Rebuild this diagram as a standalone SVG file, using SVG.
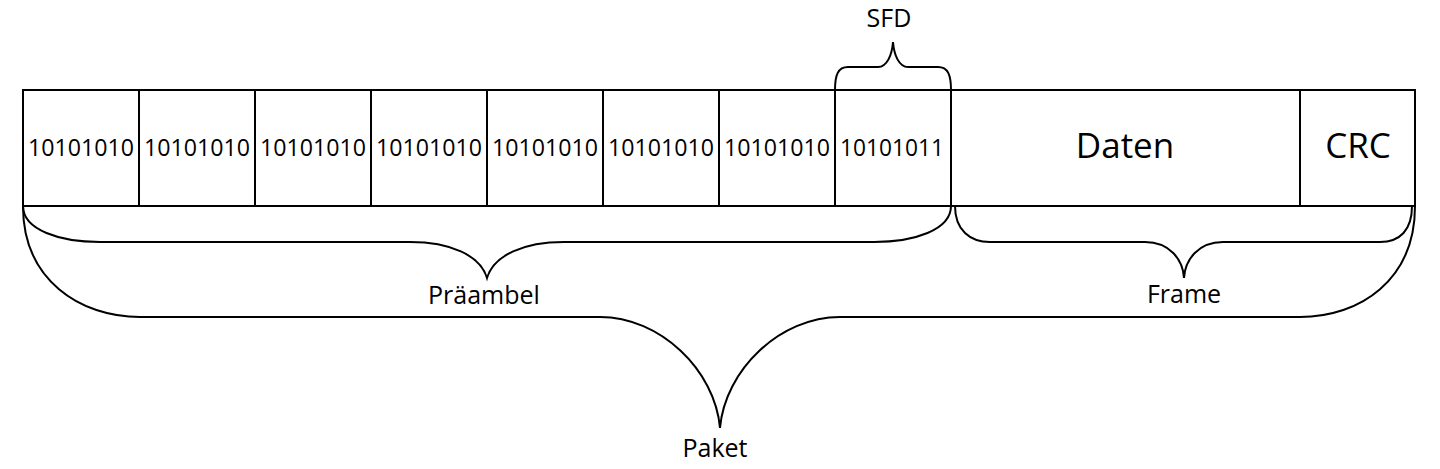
<svg xmlns="http://www.w3.org/2000/svg" width="1440" height="469" viewBox="0 0 1440 469">
<style>
.cell{fill:#fff;stroke:#000;stroke-width:2}
.br{fill:none;stroke:#000;stroke-width:2}
text{font-family:"Open Sans","Noto Sans",sans-serif;fill:#000;text-anchor:middle}
.bits{font-size:23px}
.big{font-size:35px}
.lbl{font-size:25px}
</style>
<rect width="1440" height="469" fill="#fff"/>
<g id="cell1"><rect class="cell" x="23" y="90" width="116" height="116"/><text class="bits" x="81" y="156" textLength="106" lengthAdjust="spacingAndGlyphs">10101010</text></g>
<g id="cell2"><rect class="cell" x="139" y="90" width="116" height="116"/><text class="bits" x="197" y="156" textLength="106" lengthAdjust="spacingAndGlyphs">10101010</text></g>
<g id="cell3"><rect class="cell" x="255" y="90" width="116" height="116"/><text class="bits" x="313" y="156" textLength="106" lengthAdjust="spacingAndGlyphs">10101010</text></g>
<g id="cell4"><rect class="cell" x="371" y="90" width="116" height="116"/><text class="bits" x="429" y="156" textLength="106" lengthAdjust="spacingAndGlyphs">10101010</text></g>
<g id="cell5"><rect class="cell" x="487" y="90" width="116" height="116"/><text class="bits" x="545" y="156" textLength="106" lengthAdjust="spacingAndGlyphs">10101010</text></g>
<g id="cell6"><rect class="cell" x="603" y="90" width="116" height="116"/><text class="bits" x="661" y="156" textLength="106" lengthAdjust="spacingAndGlyphs">10101010</text></g>
<g id="cell7"><rect class="cell" x="719" y="90" width="116" height="116"/><text class="bits" x="777" y="156" textLength="106" lengthAdjust="spacingAndGlyphs">10101010</text></g>
<g id="cell8"><rect class="cell" x="835" y="90" width="116" height="116"/><text class="bits" x="892" y="156" textLength="104" lengthAdjust="spacingAndGlyphs">10101011</text></g>
<g id="daten"><rect class="cell" x="951" y="90" width="349" height="116"/><text class="big" x="1125" y="158">Daten</text></g>
<g id="crc"><rect class="cell" x="1300" y="90" width="115" height="116"/><text class="big" x="1358" y="158">CRC</text></g>
<g id="connectors">
<path class="br" d="M835,90 C835,75 838,67 848,67 L878,67 C887,67 892,55 893,42 C894,55 899,67 908,67 L938,67 C948,67 951,75 951,90"/>
<path class="br" d="M23,206 C23,230 60,242 100,242 L410,242 C450,242 480,255 487,278 C494,255 524,242 564,242 L874,242 C914,242 951,230 951,206"/>
<path class="br" d="M955,206 C955,230 970,242 990,242 L1145,242 C1170,242 1183,260 1184,278 C1185,260 1198,242 1223,242 L1380,242 C1400,242 1412,230 1412,206"/>
<path class="br" d="M23,206 C23,280 80,317 140,317 L600,317 C660,317 715,370 720,428 C725,370 780,317 840,317 L1300,317 C1360,317 1415,280 1415,206"/>
</g>
<g id="labels">
<text class="lbl" x="889" y="27">SFD</text>
<text class="lbl" x="484" y="304">Präambel</text>
<text class="lbl" x="1184" y="303">Frame</text>
<text class="lbl" x="715" y="457">Paket</text>
</g>
</svg>
